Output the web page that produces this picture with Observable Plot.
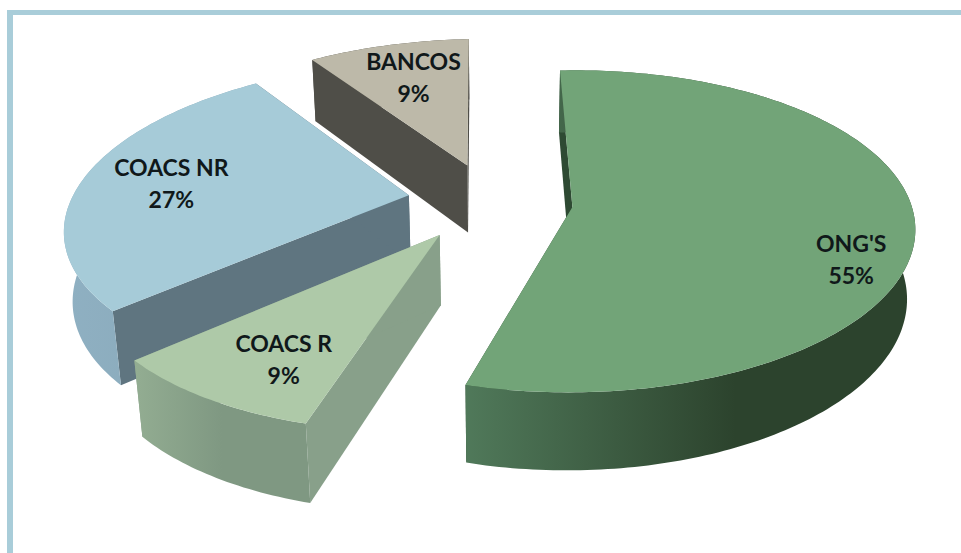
<!DOCTYPE html>
<html>
<head>
<meta charset="utf-8">
<script src="https://cdn.jsdelivr.net/npm/d3@7"></script>
<script src="https://cdn.jsdelivr.net/npm/@observablehq/plot@0.6"></script>
<style>
  html, body { margin: 0; background: #fff; }
  #chart { position: relative; width: 961px; height: 553px; overflow: hidden; }
  #chart svg { display: block; }
</style>
</head>
<body>
<div id="chart"></div>
<script>
// Shares of the portfolio, clockwise from the top of the pie.
const names = ["ONG'S", "COACS R", "COACS NR", "BANCOS"];
const shares = [55, 9, 27, 9];

// Colours of each slice: top face, radial wall, outer wall (left and right).
const topColors = ["#72a478", "#aec9a8", "#a6cbd8", "#bdb9a9"];
const wallColors = ["#2e4a33", "#88a08a", "#5f7580", "#4f4e48"];
const rimStart = ["#50795a", "#93ad92", "#8fb0c2", "#4f4e48"];
const rimEnd = ["#2c432d", "#7f9882", "#86a6b6", "#4f4e48"];

// Where each slice sits on the ground plane once pulled out of the pie (radius = 1).
const sliceCenterU = [-0.068, -0.447, -0.556, -0.393];
const sliceCenterV = [0.01, -0.163, 0.085, 0.284];
// Label centres relative to the slice centre, in the same plane units.
const labelOffsetU = [0.784, -0.353, -0.721, -0.219];
const labelOffsetV = [-0.324, -0.677, 0.071, 0.658];

const startAngle = -3;

// Perspective camera: plane coordinates to page pixels.
const cam = {x0: 595, y0: 208, scaleU: 340, scaleV: 157.8, tilt: 0.152, depth: 69, depthPower: 0.75, vanishX: 500, vanishD: 3500};

function project(u, v, drop = false) {
  const w = 1 + cam.tilt * v;
  const x = cam.x0 + cam.scaleU * u / w;
  const y = cam.y0 - cam.scaleV * v / w;
  if (!drop) return {x, y};
  const h = cam.depth / Math.pow(w, cam.depthPower);
  return {x: x + h * (cam.vanishX - x) / cam.vanishD, y: y + h};
}

// Slice angles come straight from the shares.
const total = d3.sum(shares);
let running = startAngle;
const slices = names.map((name, i) => {
  const a0 = running;
  running += 360 * shares[i] / total;
  return {name, share: shares[i], a0, a1: running, u: sliceCenterU[i], v: sliceCenterV[i], i};
});

function rimPoints(s, drop) {
  const n = Math.max(8, Math.ceil(s.a1 - s.a0));
  return d3.range(n + 1).map(k => {
    const a = (s.a0 + (s.a1 - s.a0) * k / n) * Math.PI / 180;
    return project(s.u + Math.sin(a), s.v + Math.cos(a), drop);
  });
}

function polygon(points, fill) {
  return Plot.line(points, {x: "x", y: "y", fill, stroke: "none", curve: "linear"});
}

function sliceMarks(s) {
  const top = rimPoints(s, false);
  const low = rimPoints(s, true);
  const apex = project(s.u, s.v, false);
  const apexLow = project(s.u, s.v, true);
  const wall = wallColors[s.i];
  return [
    polygon([apex, top[0], low[0], apexLow], wall),
    polygon([apex, top[top.length - 1], low[low.length - 1], apexLow], wall),
    polygon([...top, ...low.slice().reverse()], `url(#rim${s.i})`),
    polygon([apex, ...top], topColors[s.i])
  ];
}

// Outer wall gradients.
const gradientStops = [0.6, 0.5, 1, 1];
function defs() {
  const svgNs = "http://www.w3.org/2000/svg";
  const el = document.createElementNS(svgNs, "defs");
  slices.forEach(s => {
    const g = document.createElementNS(svgNs, "linearGradient");
    g.setAttribute("id", `rim${s.i}`);
    [[0, rimStart[s.i]], [gradientStops[s.i], rimEnd[s.i]], [1, rimEnd[s.i]]].forEach(([o, c]) => {
      const stop = document.createElementNS(svgNs, "stop");
      stop.setAttribute("offset", o);
      stop.setAttribute("stop-color", c);
      g.appendChild(stop);
    });
    el.appendChild(g);
  });
  return el;
}

// Back to front: the banks slice and the main slice first, then the two front-left ones.
const drawOrder = [3, 0, 2, 1];

const labels = slices.map(s => {
  const p = project(s.u + labelOffsetU[s.i], s.v + labelOffsetV[s.i]);
  return {x: p.x, y: p.y, text: `${s.name}\n${s.share}%`};
});

// Page frame: two pale blue bands along the top and the left.
const frame = [{x1: 7, x2: 961, y1: 10, y2: 15}, {x1: 7, x2: 13, y1: 10, y2: 553}];

const chart = Plot.plot({
  width: 961,
  height: 553,
  margin: 0,
  style: {background: "#fff"},
  x: {domain: [0, 961], range: [0, 961], axis: null},
  y: {domain: [0, 553], range: [0, 553], axis: null},
  marks: [
    defs,
    Plot.rect(frame, {x1: "x1", x2: "x2", y1: "y1", y2: "y2", fill: "#a9cdd9"}),
    ...drawOrder.flatMap(i => sliceMarks(slices[i])),
    Plot.text(labels, {
      x: "x", y: "y", text: "text", dy: -2.5,
      fontFamily: "Lato", fontWeight: 700, fontSize: 23, lineHeight: 1.4,
      fill: "#10181a", textAnchor: "middle", lineAnchor: "middle"
    })
  ]
});
document.getElementById("chart").appendChild(chart);
</script>
</body>
</html>
